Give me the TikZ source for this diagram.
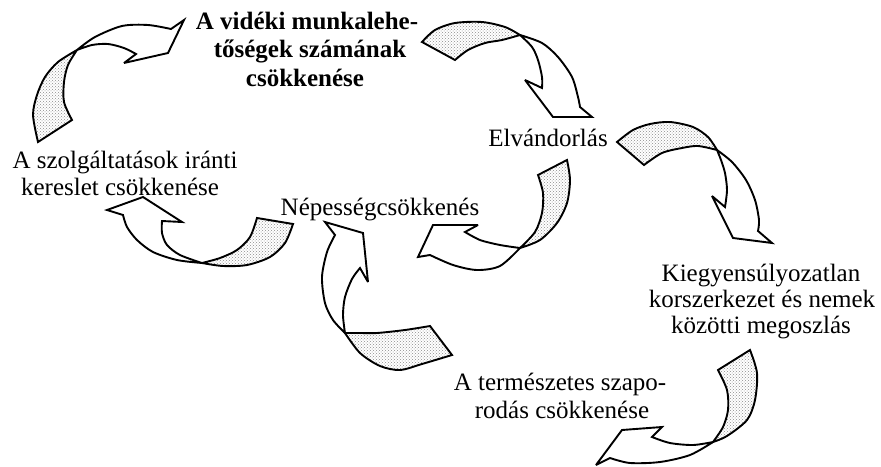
\documentclass[tikz,border=0pt]{standalone}
\usepackage{fontspec}
\setmainfont{Liberation Serif}
\usetikzlibrary{patterns}
\begin{document}
\begin{tikzpicture}[x=1pt,y=-1pt,
  lbl/.style={anchor=base, inner sep=0pt, font=\fontsize{25}{27}\selectfont},
  blbl/.style={anchor=base, inner sep=0pt, font=\fontsize{25}{27}\selectfont\bfseries},
  front/.style={draw=black, fill=white, line width=1.9pt, line join=miter, miter limit=4},
  back/.style={draw=black, line width=1.9pt, line join=miter, miter limit=4, pattern=crosshatch dots, pattern color=black!45}]
\fill[white] (0,0) rectangle (881,466);
\useasboundingbox (0,0) rectangle (881,466);

% labels
\node[blbl] (v1) at (307,29) {A vidéki munkalehe-};
\node[blbl] (v2) at (310,57.5) {tőségek számának};
\node[blbl] (v3) at (305,86) {csökkenése};
\node[lbl] (elv) at (548,146) {Elvándorlás};
\node[lbl] (sz1) at (125,168) {A szolgáltatások iránti};
\node[lbl] (sz2) at (120,195) {kereslet csökkenése};
\node[lbl] (nep) at (380,215) {Népességcsökkenés};
\node[lbl] (ki1) at (761,281) {Kiegyensúlyozatlan};
\node[lbl] (ki2) at (762,307) {korszerkezet és nemek};
\node[lbl] (ki3) at (761,333) {közötti megoszlás};
\node[lbl] (te1) at (560,390) {A természetes szapo-};
\node[lbl] (te2) at (562,418) {rodás csökkenése};

% arrow 1
\path[back] plot[smooth] coordinates {(38,142)(33,115)(37,95)(45,77)(58,62)(77,50)} -- plot[smooth] coordinates {(77,50)(68,65)(64,82)(64,102)(72,120)} -- cycle;
\path[front] plot[smooth] coordinates {(77,50)(95,37)(122,26)(148,25)(171,29)} -- (184,20) -- (168,53) -- (124,63) -- plot[smooth] coordinates {(136,54)(124,48)(108,44)(92,45)(77,50)} -- cycle;

% arrow 2
\path[back] plot[smooth] coordinates {(422,42)(435,30)(455,23)(482,22)(505,27)(520,35)} -- plot[smooth] coordinates {(520,35)(502,40)(485,43)(468,50)(455,60)} -- cycle;
\path[front] plot[smooth] coordinates {(520,35)(542,43)(558,57)(572,77)(578,97)(580,107)} -- (592,117) -- (553,117) -- (525,80) -- plot[smooth] coordinates {(542,88)(542,77)(538,60)(532,47)(520,35)} -- cycle;

% arrow 3
\path[back] plot[smooth] coordinates {(617,142)(633,130)(650,124)(670,122)(693,127)(708,137)(717,150)} -- plot[smooth] coordinates {(717,150)(698,146)(682,148)(662,153)(644,165)} -- cycle;
\path[front] plot[smooth] coordinates {(717,150)(732,162)(746,180)(755,200)(759,220)(758,231)} -- (772,243) -- (733,238) -- (712,196) -- plot[smooth] coordinates {(725,207)(727,190)(725,173)(721,160)(717,150)} -- cycle;

% arrow 4
\path[back] plot[smooth] coordinates {(293,224)(285,243)(270,257)(247,265)(223,266)(202,263)} -- plot[smooth] coordinates {(202,263)(220,258)(237,250)(250,237)(257,218)} -- cycle;
\path[front] plot[smooth] coordinates {(202,263)(177,260)(153,252)(137,240)(127,227)(123,215)} -- (107,210) -- (143,197) -- (182,222) -- plot[smooth] coordinates {(162,221)(162,233)(167,245)(180,255)(202,263)} -- cycle;

% arrow 5
\path[front] plot[smooth] coordinates {(345,333)(333,320)(325,303)(322,277)(327,252)(335,235)} -- (325,222) -- (363,233) -- (368,282) -- plot[smooth] coordinates {(360,268)(352,279)(345,297)(343,315)(345,333)} -- cycle;
\path[back] plot[smooth] coordinates {(345,333)(360,353)(380,366)(400,370)(422,364)(452,355)} -- plot[smooth] coordinates {(430,326)(405,330)(377,333)(360,333)(345,333)} -- cycle;

% arrow 6
\path[back] plot[smooth] coordinates {(567,160)(570,180)(567,203)(557,223)(540,240)(520,248)} -- plot[smooth] coordinates {(520,248)(535,232)(542,213)(543,193)(538,175)} -- cycle;
\path[front] plot[smooth] coordinates {(520,248)(500,245)(480,240)(465,232)} -- (478,225) -- (433,225) -- (418,257) -- plot[smooth] coordinates {(430,255)(453,265)(477,270)(500,266)(520,248)} -- cycle;

% arrow 7
\path[back] plot[smooth] coordinates {(750,350)(757,373)(755,400)(747,420)(727,436)(713,442)} -- plot[smooth] coordinates {(713,442)(723,427)(728,410)(727,390)(718,370)} -- cycle;
\path[front] plot[smooth] coordinates {(713,442)(693,445)(670,443)(652,437)} -- (662,427) -- (622,430) -- (596,465) -- plot[smooth] coordinates {(610,458)(630,463)(660,462)(690,455)(713,442)} -- cycle;
\end{tikzpicture}
\end{document}
